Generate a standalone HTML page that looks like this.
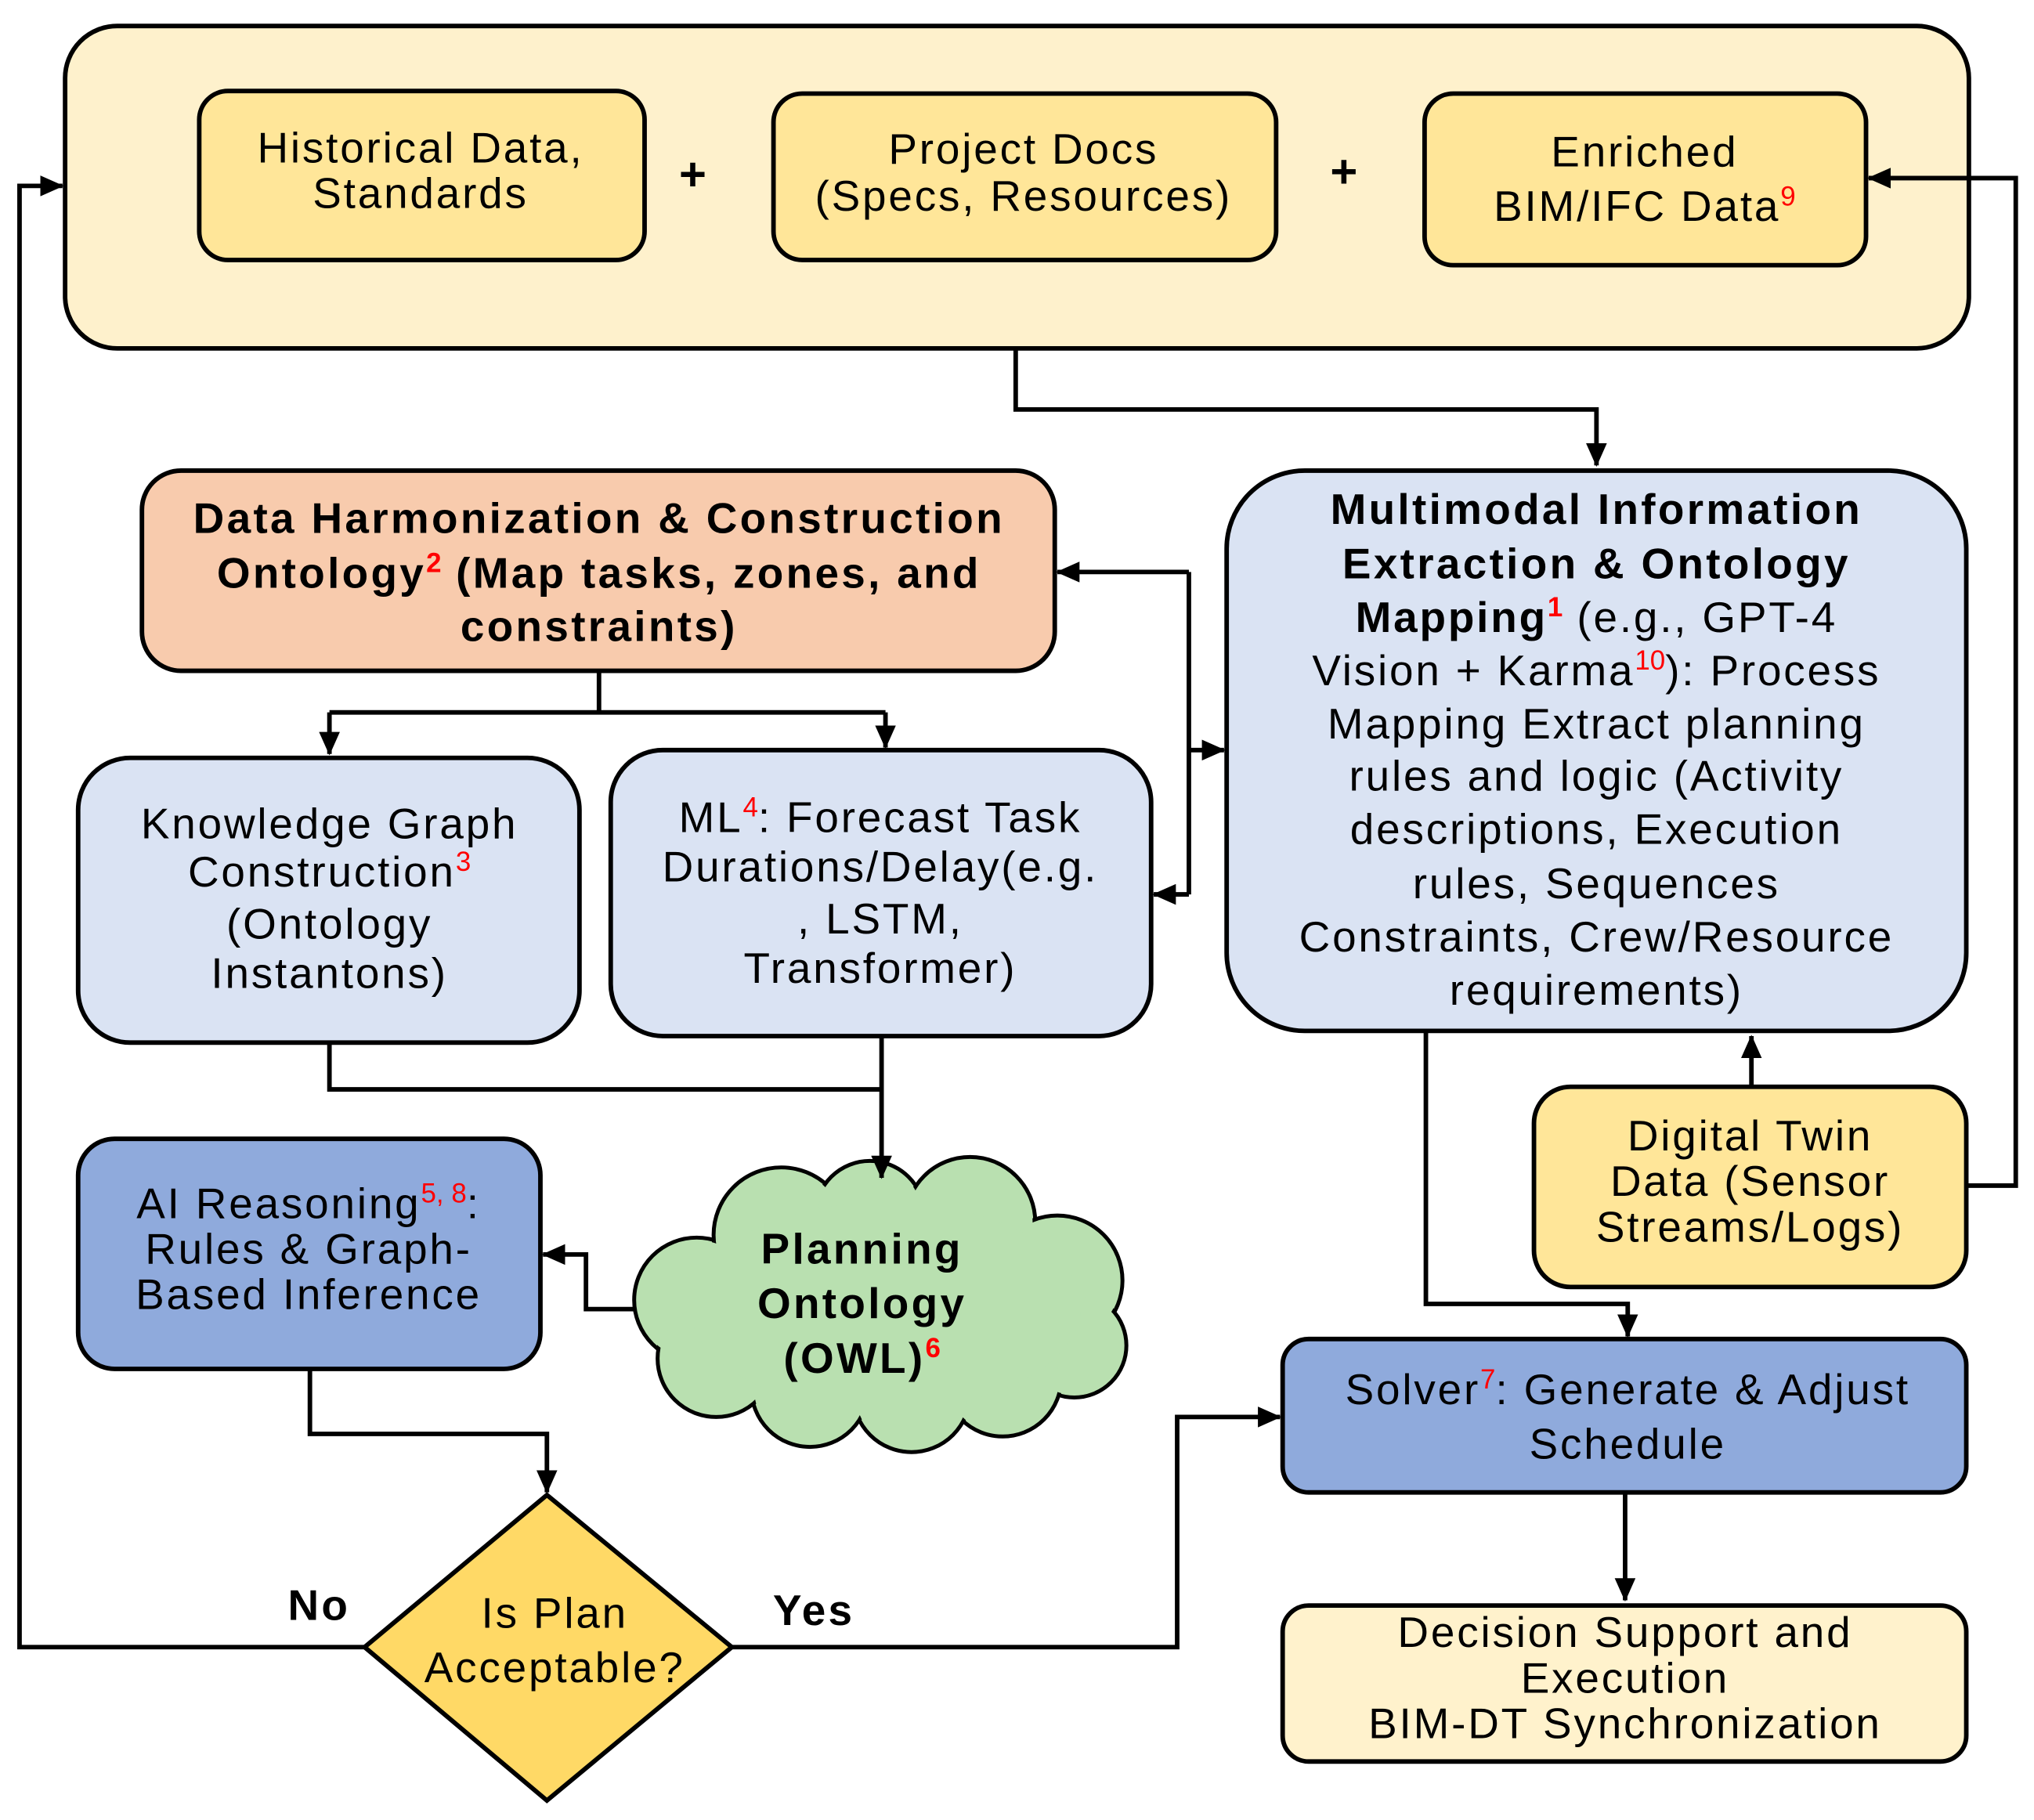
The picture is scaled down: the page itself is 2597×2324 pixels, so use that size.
<!DOCTYPE html>
<html><head><meta charset="utf-8"><style>
html,body{margin:0;padding:0;background:#fff;}
svg{display:block;}
text{font-family:"Liberation Sans",sans-serif;fill:#000;}
.t{font-size:33px;text-anchor:middle;letter-spacing:1.7px;}
.b{font-size:33px;font-weight:bold;text-anchor:middle;letter-spacing:2px;}
.r{fill:#f00;font-size:21px;letter-spacing:0;}
</style></head><body>
<svg width="2597" height="2324" viewBox="0 0 1562 1400" preserveAspectRatio="none" xmlns="http://www.w3.org/2000/svg">
<defs><marker id="m" markerWidth="18" markerHeight="16" refX="17" refY="8" orient="auto" markerUnits="userSpaceOnUse"><path d="M0,0L18,8L0,16z" fill="#000"/></marker></defs>
<g stroke="#000" stroke-width="3.5">
<rect x="50" y="20" width="1462" height="248" rx="40" fill="#FEF1CC"/>
<rect x="153" y="70" width="342" height="130" rx="22" fill="#FFE699"/>
<rect x="594" y="72" width="386" height="128" rx="22" fill="#FFE699"/>
<rect x="1094" y="72" width="339" height="132" rx="22" fill="#FFE699"/>
<rect x="109" y="362" width="701" height="154" rx="30" fill="#F8CBAD"/>
<rect x="60" y="583" width="385" height="219" rx="40" fill="#DAE3F3"/>
<rect x="469" y="577" width="415" height="220" rx="40" fill="#DAE3F3"/>
<rect x="942" y="362" width="568" height="431" rx="60" fill="#DAE3F3"/>
<rect x="60" y="876" width="355" height="177" rx="28" fill="#8FAADC"/>
<rect x="1178" y="836" width="332" height="154" rx="28" fill="#FFE699"/>
<rect x="985" y="1030" width="525" height="118" rx="20" fill="#8FAADC"/>
<rect x="985" y="1235" width="525" height="120" rx="20" fill="#FFF2CC"/>
<path d="M420,1150L562,1267L420,1385L280,1267z" fill="#FFD966"/>
</g>
<g fill="#B9E0B0" stroke="#000" stroke-width="3">
<circle cx="535" cy="1000" r="48"/><circle cx="600" cy="950" r="52"/><circle cx="668" cy="935" r="42"/><circle cx="745" cy="940" r="50"/><circle cx="812" cy="985" r="50"/><circle cx="825" cy="1035" r="40"/><circle cx="770" cy="1060" r="45"/><circle cx="700" cy="1072" r="45"/><circle cx="622" cy="1068" r="45"/><circle cx="550" cy="1045" r="45"/>
</g>
<g fill="#B9E0B0">
<circle cx="535" cy="1000" r="46"/><circle cx="600" cy="950" r="50"/><circle cx="668" cy="935" r="40"/><circle cx="745" cy="940" r="48"/><circle cx="812" cy="985" r="48"/><circle cx="825" cy="1035" r="38"/><circle cx="770" cy="1060" r="43"/><circle cx="700" cy="1072" r="43"/><circle cx="622" cy="1068" r="43"/><circle cx="550" cy="1045" r="43"/>
<ellipse cx="680" cy="1005" rx="150" ry="80"/>
</g>
<g stroke="#000" stroke-width="3.5" fill="none">
<path d="M780,268V315H1226V358" marker-end="url(#m)"/>
<path d="M460,516V548"/>
<path d="M253,548H680"/>
<path d="M253,548V580" marker-end="url(#m)"/>
<path d="M680,548V575" marker-end="url(#m)"/>
<path d="M913,440V688"/>
<path d="M913,440H812" marker-end="url(#m)"/>
<path d="M913,688H886" marker-end="url(#m)"/>
<path d="M913,577H940" marker-end="url(#m)"/>
<path d="M253,802V838H677"/>
<path d="M677,797V906" marker-end="url(#m)"/>
<path d="M487,1007H450V965H417" marker-end="url(#m)"/>
<path d="M238,1053V1103H420V1148" marker-end="url(#m)"/>
<path d="M280,1267H15V143H48" marker-end="url(#m)"/>
<path d="M562,1267H904V1090H983" marker-end="url(#m)"/>
<path d="M1095,793V1003H1250V1028" marker-end="url(#m)"/>
<path d="M1345,836V797" marker-end="url(#m)"/>
<path d="M1510,912H1548V137H1435" marker-end="url(#m)"/>
<path d="M1248,1148V1231" marker-end="url(#m)"/>
</g>
<text class="t" x="323" y="125">Historical Data,</text>
<text class="t" x="323" y="160">Standards</text>
<text class="b" x="533" y="146" style="font-size:36px">+</text>
<text class="t" x="786" y="126">Project Docs</text>
<text class="t" x="786" y="162">(Specs, Resources)</text>
<text class="b" x="1033" y="144" style="font-size:36px">+</text>
<text class="t" x="1263" y="128">Enriched</text>
<text class="t" x="1263" y="170">BIM/IFC Data<tspan class="r" dy="-12">9</tspan></text>
<text class="b" x="460" y="410">Data Harmonization &amp; Construction</text>
<text class="b" x="460" y="452">Ontology<tspan class="r" dy="-12">2</tspan><tspan dy="12"> (Map tasks, zones, and</tspan></text>
<text class="b" x="460" y="493">constraints)</text>
<text class="t" x="253" y="645">Knowledge Graph</text>
<text class="t" x="253" y="682">Construction<tspan class="r" dy="-12">3</tspan></text>
<text class="t" x="253" y="722">(Ontology</text>
<text class="t" x="253" y="760">Instantons)</text>
<text class="t" x="676" y="640">ML<tspan class="r" dy="-12">4</tspan><tspan dy="12">: Forecast Task</tspan></text>
<text class="t" x="676" y="678">Durations/Delay(e.g.</text>
<text class="t" x="676" y="718">, LSTM,</text>
<text class="t" x="676" y="756">Transformer)</text>
<text class="b" x="1226" y="403">Multimodal Information</text>
<text class="b" x="1226" y="445">Extraction &amp; Ontology</text>
<text class="t" x="1226" y="486"><tspan font-weight="bold">Mapping</tspan><tspan class="r" font-weight="bold" dy="-12">1</tspan><tspan dy="12"> (e.g., GPT-4</tspan></text>
<text class="t" x="1226" y="527">Vision + Karma<tspan class="r" dy="-12">10</tspan><tspan dy="12">): Process</tspan></text>
<text class="t" x="1226" y="568">Mapping Extract planning</text>
<text class="t" x="1226" y="608">rules and logic (Activity</text>
<text class="t" x="1226" y="649">descriptions, Execution</text>
<text class="t" x="1226" y="691">rules, Sequences</text>
<text class="t" x="1226" y="732">Constraints, Crew/Resource</text>
<text class="t" x="1226" y="773">requirements)</text>
<text class="t" x="237" y="937">AI Reasoning<tspan class="r" dy="-12">5, 8</tspan><tspan dy="12">:</tspan></text>
<text class="t" x="237" y="972">Rules &amp; Graph-</text>
<text class="t" x="237" y="1007">Based Inference</text>
<text class="b" x="662" y="972">Planning</text>
<text class="b" x="662" y="1014">Ontology</text>
<text class="b" x="662" y="1056">(OWL)<tspan class="r" font-weight="bold" dy="-12">6</tspan></text>
<text class="t" x="1344" y="885">Digital Twin</text>
<text class="t" x="1344" y="920">Data (Sensor</text>
<text class="t" x="1344" y="955">Streams/Logs)</text>
<text class="t" x="1250" y="1080">Solver<tspan class="r" dy="-12">7</tspan><tspan dy="12">: Generate &amp; Adjust</tspan></text>
<text class="t" x="1250" y="1122">Schedule</text>
<text class="t" x="1248" y="1267">Decision Support and</text>
<text class="t" x="1248" y="1302">Execution</text>
<text class="t" x="1248" y="1337">BIM-DT Synchronization</text>
<text class="t" x="426" y="1252">Is Plan</text>
<text class="t" x="426" y="1294">Acceptable?</text>
<text class="b" x="245" y="1246">No</text>
<text class="b" x="625" y="1250">Yes</text>
</svg>
</body></html>
